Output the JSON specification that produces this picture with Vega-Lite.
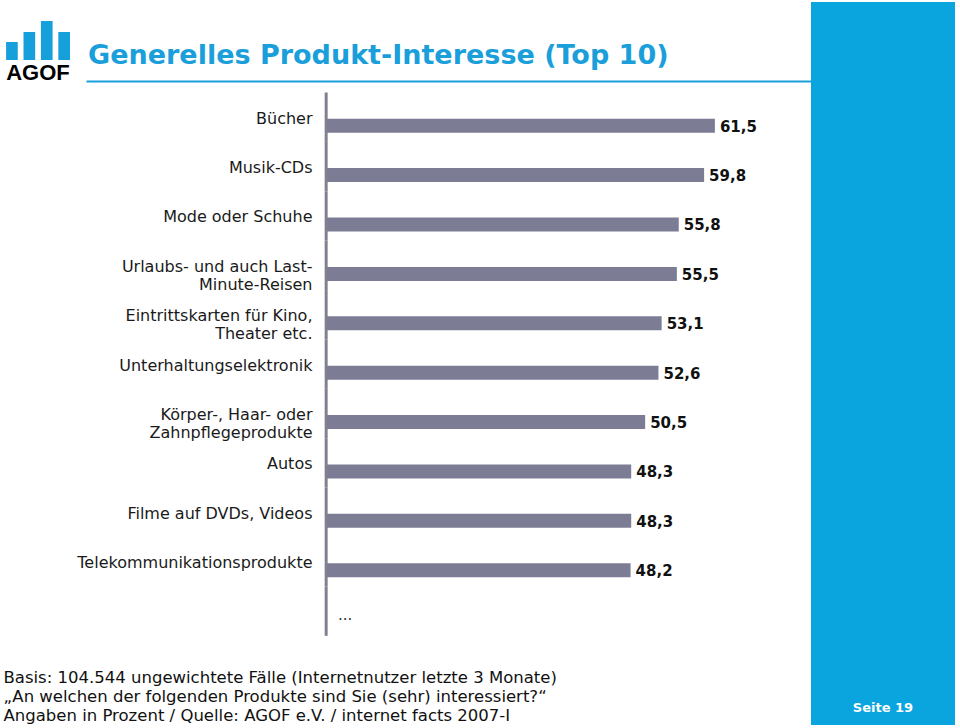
{
  "$schema": "https://vega.github.io/schema/vega-lite/v6.json",
  "padding": {"left": 0, "top": 2, "right": 0, "bottom": 0},
  "background": "white",
  "spacing": 0,
  "config": {
    "view": {"stroke": null},
    "locale": {"number": {"decimal": ",", "thousands": ".", "grouping": [3], "currency": ["", " €"]}}
  },
  "hconcat": [
    {
      "spacing": 0,
      "vconcat": [
        {
          "bounds": "flush",
          "spacing": 16,
          "hconcat": [
            {
              "width": 70,
              "height": 58,
              "data": {"values": [{"k": "a", "h": 18}, {"k": "b", "h": 28}, {"k": "c", "h": 39}, {"k": "d", "h": 28}]},
              "mark": {"type": "bar", "color": "#16a0db"},
              "encoding": {
                "x": {"field": "k", "type": "nominal", "sort": null,
                  "scale": {"paddingInner": 0.33, "paddingOuter": 0.175, "align": 1},
                  "axis": {"labels": false, "ticks": false, "domain": false, "grid": false, "title": "AGOF",
                    "titleFont": "Liberation Sans", "titleFontWeight": "bold", "titleFontSize": 22, "titleColor": "#000000",
                    "titlePadding": 2, "titleX": 37.5, "titleAlign": "center", "titleBaseline": "top"}},
                "y": {"field": "h", "type": "quantitative", "scale": {"domain": [0, 58], "nice": false, "zero": true}, "axis": null}
              }
            },
            {
              "width": 725,
              "height": 79,
              "data": {"values": []},
              "mark": "point",
              "encoding": {
                "x": {"field": "v", "type": "quantitative", "scale": {"domain": [0, 1]},
                  "axis": {"domain": true, "domainColor": "#1a9fda", "domainWidth": 2, "ticks": false, "labels": false, "grid": false, "title": null}}
              },
              "title": {"text": "Generelles Produkt-Interesse (Top 10)", "anchor": "start", "frame": "group",
                "font": "DejaVu Sans", "fontSize": 27, "fontWeight": "bold", "color": "#1a9fda", "offset": -68, "dx": 2}
            }
          ]
        },
        {
          "width": 811,
          "height": 583.5,
          "data": {"values": [
            {"cat": "Bücher", "value": 61.5},
            {"cat": "Musik-CDs", "value": 59.8},
            {"cat": "Mode oder Schuhe", "value": 55.8},
            {"cat": "Urlaubs- und auch Last-\nMinute-Reisen", "value": 55.5},
            {"cat": "Eintrittskarten für Kino,\nTheater etc.", "value": 53.1},
            {"cat": "Unterhaltungselektronik", "value": 52.6},
            {"cat": "Körper-, Haar- oder\nZahnpflegeprodukte", "value": 50.5},
            {"cat": "Autos", "value": 48.3},
            {"cat": "Filme auf DVDs, Videos", "value": 48.3},
            {"cat": "Telekommunikationsprodukte", "value": 48.2},
            {"cat": "...", "value": null}
          ]},
          "layer": [
            {
              "transform": [{"filter": "datum.value != null"}],
              "mark": {"type": "bar", "color": "#7c7c94", "height": 14},
              "encoding": {
                "y": {"field": "cat", "type": "nominal", "sort": null,
                  "scale": {"domain": ["Bücher", "Musik-CDs", "Mode oder Schuhe", "Urlaubs- und auch Last-\nMinute-Reisen", "Eintrittskarten für Kino,\nTheater etc.", "Unterhaltungselektronik", "Körper-, Haar- oder\nZahnpflegeprodukte", "Autos", "Filme auf DVDs, Videos", "Telekommunikationsprodukte", "..."],
                    "paddingInner": 0, "paddingOuter": 0.407, "align": 0.448},
                  "axis": {"orient": "left", "offset": -325, "domain": false, "ticks": false, "grid": false, "title": null,
                    "labelPadding": 13, "labelOffset": -7, "labelFont": "DejaVu Sans", "labelFontSize": 16, "labelColor": "#1a1a1a",
                    "labelLimit": 0, "labelLineHeight": 18,
                    "labelExpr": "datum.label == '...' ? '' : split(datum.label, '\\n')"}},
                "x": {"field": "value", "type": "quantitative",
                  "scale": {"domain": [-51.26, 76.66], "nice": false},
                  "axis": {"orient": "bottom", "labels": false, "ticks": false, "domain": false, "grid": false,
                    "title": ["Basis: 104.544 ungewichtete Fälle (Internetnutzer letzte 3 Monate)", "„An welchen der folgenden Produkte sind Sie (sehr) interessiert?“", "Angaben in Prozent / Quelle: AGOF e.V. / internet facts 2007-I"],
                    "titleX": 3, "titleY": 15.5, "titleAlign": "left", "titleAnchor": "start", "titleBaseline": "alphabetic",
                    "titleFont": "DejaVu Sans", "titleFontSize": 16.5, "titleFontWeight": "normal", "titleColor": "#111111", "titleLineHeight": 19.2}}
              }
            },
            {
              "mark": {"type": "bar", "color": "#808090", "yOffset": -8.5},
              "encoding": {
                "y": {"field": "cat", "type": "nominal", "sort": null},
                "x": {"datum": -0.05},
                "x2": {"datum": 0.42}
              }
            },
            {
              "transform": [{"filter": "datum.value != null"}],
              "mark": {"type": "text", "align": "left", "baseline": "middle", "dx": 5, "dy": 1, "font": "DejaVu Sans", "fontSize": 15, "fontWeight": "bold", "color": "#111111"},
              "encoding": {
                "y": {"field": "cat", "type": "nominal", "sort": null},
                "x": {"field": "value", "type": "quantitative"},
                "text": {"field": "value", "type": "quantitative", "format": ".1f"}
              }
            },
            {
              "transform": [{"filter": "datum.value == null"}],
              "mark": {"type": "text", "align": "left", "baseline": "alphabetic", "dx": 13, "font": "DejaVu Sans", "fontSize": 15, "color": "#333333"},
              "encoding": {
                "y": {"field": "cat", "type": "nominal", "sort": null},
                "x": {"datum": 0},
                "text": {"field": "cat", "type": "nominal"}
              }
            }
          ]
        }
      ]
    },
    {
      "width": 144,
      "height": 723,
      "view": {"fill": "#0aa5df", "stroke": null},
      "data": {"values": [{"page": "Seite 19"}]},
      "mark": {"type": "text", "color": "white", "font": "DejaVu Sans", "fontWeight": "bold", "fontSize": 13, "baseline": "alphabetic", "dy": 348.5},
      "encoding": {"text": {"field": "page", "type": "nominal"}}
    }
  ]
}
